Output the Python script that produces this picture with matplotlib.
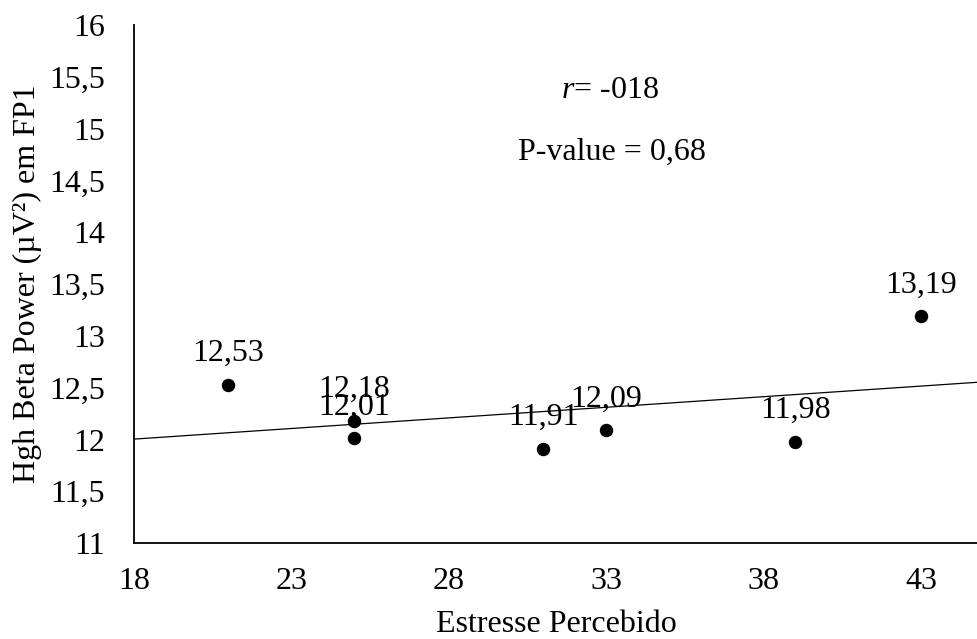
import numpy as np
import matplotlib
matplotlib.use("Agg")
import matplotlib.pyplot as plt
from matplotlib.ticker import FuncFormatter, MultipleLocator

plt.rcParams['font.family'] = ['Liberation Serif', 'DejaVu Serif']
plt.rcParams['font.size'] = 23
plt.rcParams['mathtext.fontset'] = 'custom'
plt.rcParams['mathtext.it'] = 'Liberation Serif:italic'
plt.rcParams['mathtext.rm'] = 'Liberation Serif'

stress = [21, 25, 25, 31, 33, 39, 43]
beta = [12.53, 12.18, 12.01, 11.91, 12.09, 11.98, 13.19]
xticks = [18, 23, 28, 33, 38, 43]

fig = plt.figure(figsize=(9.78, 6.39), dpi=100)
ax = fig.add_axes([0.137, 0.150, 0.863, 0.811])

ax.scatter(stress, beta, s=75, color='k', zorder=3)
for x, y in zip(stress, beta):
    ax.annotate(f"{y:.2f}".replace('.', ','), (x, y), xytext=(0, 17),
                textcoords='offset points', ha='center', va='baseline')

# linear trend line
xlim = (18, 44.8)
slope, inter = np.polyfit(stress, beta, 1)
xs = np.array(xlim)
ax.plot(xs, slope * xs + inter, color='k', lw=0.9)

ax.set_xlim(xlim)
ax.set_ylim(11, 16)
ax.set_xticks(xticks)
ax.yaxis.set_major_locator(MultipleLocator(0.5))
fmt = FuncFormatter(lambda v, p: (f"{v:g}").replace('.', ','))
ax.yaxis.set_major_formatter(fmt)
ax.tick_params(axis='x', length=0, pad=17)
ax.tick_params(axis='y', length=0, pad=21)

for s in ['top', 'right']:
    ax.spines[s].set_visible(False)
for s in ['left', 'bottom']:
    ax.spines[s].set_linewidth(1.3)

ax.set_xlabel('Estresse Percebido', labelpad=10)
ax.set_ylabel('Hgh Beta Power (µV²) em FP1', labelpad=5)

ax.text(0.564, 0.874, r'$\mathit{r}$= -018', transform=ax.transAxes,
        ha='center', va='center')
ax.text(0.566, 0.755, 'P-value = 0,68', transform=ax.transAxes,
        ha='center', va='center')

fig.savefig('out.png', dpi=100)
